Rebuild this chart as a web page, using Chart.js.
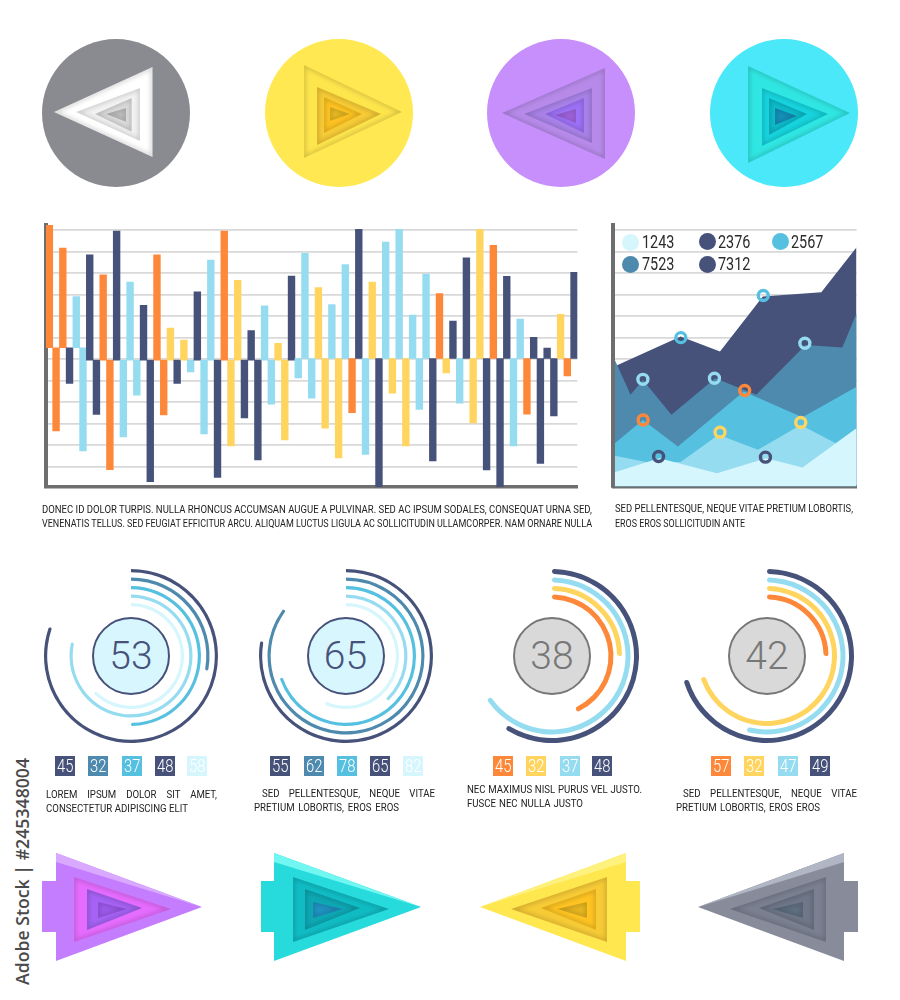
<!DOCTYPE html>
<html><head><meta charset="utf-8">
<script src="https://cdn.jsdelivr.net/npm/chart.js@4"></script>
<style>
html,body{margin:0;padding:0;background:#fff;}
#page{position:relative;width:900px;height:1000px;overflow:hidden;background:#fff;font-family:"Roboto",sans-serif;}
canvas{position:absolute;}
svg{position:absolute;left:0;top:0;}
.t{position:absolute;white-space:nowrap;line-height:1;}
.cap{font-size:11.2px;color:#222;height:12px;line-height:12px;transform-origin:0 50%;text-align:justify;text-align-last:justify;white-space:normal;}
.sq{position:absolute;width:20px;height:20px;line-height:20px;text-align:center;color:#fff;font-size:18.5px;font-weight:300;}
.sq span{display:inline-block;transform:scaleX(.8);}
.hub{position:absolute;width:74px;height:74px;border-radius:50%;text-align:center;line-height:74px;font-weight:300;font-size:39px;}
.dot{position:absolute;width:17px;height:17px;border-radius:50%;}
</style></head><body><div id="page">
<svg id="deco" width="900" height="1000"></svg>
<canvas id="bars" width="545" height="280" style="left:40px;top:215px"></canvas>
<canvas id="area" width="260" height="280" style="left:605px;top:215px"></canvas>
<canvas id="g1" width="176" height="176" style="left:43px;top:568px"></canvas>
<canvas id="g2" width="176" height="176" style="left:258px;top:568px"></canvas>
<canvas id="g3" width="176" height="176" style="left:464px;top:568px"></canvas>
<canvas id="g4" width="176" height="176" style="left:679px;top:568px"></canvas>
</div>
<script>
// ---------- data ----------
const barUpperEnds=[62.3,51.6,29,48.5,39.1,59.5,35.8,25,48.5,14.4,8.8,31.3,46,59.5,36.6,13.2,24.8,7.3,38.6,49.1,33.2,25.3,43.9,60.3,35.8,54.4,60.3,20.5,39.5,30.4,17.7,47,60.3,52.9,38.4,18.6,10.1,5.1,20.8,40.3];
const barLowerEnds=[-33.3,-11.3,-42.6,-25.7,-51.3,-36.1,-16.7,-56.9,-25.9,-11.3,-5.9,-34.7,-55,-40.3,-27.3,-46.8,-20.9,-37.5,-8.7,-18.1,-32.1,-45.9,-24.9,-44.3,-59.4,-15.8,-40.3,-23.4,-47.3,-6.4,-20.5,-29.6,-51.5,-59.4,-40.3,-25.6,-48.5,-26.4,-7.8];
const barUpperKinds=["O","O","L","N","O","N","L","N","O","Y","Y","N","L","O","Y","N","L","Y","N","L","Y","L","L","N","Y","L","L","L","L","O","N","N","Y","O","N","L","N","N","Y","N"];
const barLowerKinds=["O","N","L","N","O","L","L","N","O","N","L","L","N","Y","N","N","L","Y","L","L","Y","Y","O","L","N","Y","Y","L","N","Y","L","Y","N","N","L","O","N","N","O"];
const barBases=[5.3,5.3,5.3,5.3,5.3,5.3,-0.5,-0.5,-0.5,-0.5,-0.5,-0.5,-0.5,-0.5,-0.5,-0.5,-0.5,-0.5,-0.5,-0.5,-0.5,-0.5,-0.5,-0.5,-0.5,-0.5,-0.5,-0.5,-0.5,-0.5,-0.5,-0.5,-0.5,-0.5,-0.5,-0.5,-0.5,0.3,0.3,0.3,0.3,0.3,0.3,0.3,0.3,0.3,0.3,0.3,0.3,0.3,0.3,0.3,0.3,0.3,0.3,0.3,0.3,0.3,0.3,0.3,0.3,0.3,0.3,0.3,0.3,0.3,0.3,0.3,0.3,0.3,0.3,0.3,0.3,0.3,0.3,0.3,0.3,0.3,0.3];

const areaNavyX=[0.7,27.2,43.5,61.2,85.4,100];
const areaNavyY=[-3.1,10.4,3.4,29,31,51.9];
const areaSteelX=[0,6.5,11.6,23.4,41.5,58.5,78.9,94.1,100];
const areaSteelY=[-0.5,-16.7,-9.8,-26,-9,-16.7,6.5,5.3,21.2];
const areaBlueX=[0,11.6,26.1,53.3,77.6,100];
const areaBlueY=[-39.2,-28.4,-40.8,-15.2,-27.1,-12.9];
const areaLightX=[0,12.9,27.2,42.9,59.2,76.9,91.4,100];
const areaLightY=[-45,-48,-48,-35.3,-42.3,-30.7,-39.2,-32.2];
const areaPaleX=[0,18.4,42.2,62.6,77.6,100];
const areaPaleY=[-52.7,-46.2,-53.2,-46.2,-50.5,-32.2];
const ringLightX=[11.6,41.2,78.6], ringLightY=[-9.5,-9,7.3];
const ringBlueX=[27.3,61.4], ringBlueY=[9.9,29.5];
const ringOrangeX=[11.7,53.7], ringOrangeY=[-28.4,-14.7];
const ringYellowX=[43.5,76.9], ringYellowY=[-34.1,-29.6];
const ringNavyX=[18.1,62.3], ringNavyY=[-45.4,-45.7];
const areaLegendLabels=["1243","2376","2567","7523","7312"];

const gauge1Sweep=[80.4,28,50,78.6,62.5];
const gauge2Sweep=[77.7,85.2,69.8,38,56.6];
const gauge3Sweep=[59,65.6,25,43.3];
const gauge4Sweep=[70.4,54.2,69.9,25];
const gaugeNumbers=["53","65","38","42"];
const gauge1Squares=["45","32","37","48","58"];
const gauge2Squares=["55","62","78","65","82"];
const gauge3Squares=["45","32","37","48"];
const gauge4Squares=["57","32","47","49"];

// ---------- colours ----------
const C={O:"#FE8839",Y:"#FFD45F",L:"#95DCF0",N:"#46527A",S:"#4E8AAE",B:"#55C0E0",P:"#D6F6FD"};
const AXIS="#6E6E6E",GRID="#D9D9D9";
Chart.defaults.animation=false;
Chart.defaults.responsive=false;
Chart.defaults.plugins.legend.display=false;
Chart.defaults.plugins.tooltip.enabled=false;

// ---------- bar chart ----------
const barKinds=[],barRanges=[];
barUpperEnds.forEach((v,i)=>{
  barKinds.push(barUpperKinds[i]);barRanges.push(v);
  if(i<barLowerEnds.length){barKinds.push(barLowerKinds[i]);barRanges.push(barLowerEnds[i]);}
});
const gridScaleY=(min,max)=>({type:"linear",min,max,ticks:{display:false,stepSize:10,includeBounds:false},
  grid:{color:GRID,lineWidth:1.8,drawTicks:false},border:{display:true,color:AXIS,width:4}});
const bottomBorder={display:true,color:AXIS,width:3.6};
new Chart("bars",{type:"bar",
  data:{labels:barRanges.map((_,i)=>i+1),datasets:[{
    data:barRanges.map((v,i)=>[barBases[i],v]),
    backgroundColor:barKinds.map(k=>C[k]),borderWidth:0,barPercentage:1,categoryPercentage:1}]},
  options:{layout:{padding:{left:6,right:7.6,top:10,bottom:8}},
    scales:{x:{ticks:{display:false},grid:{display:false,drawTicks:false},border:bottomBorder},
            y:gridScaleY(-59.4,62.3)}}});

// ---------- area chart ----------
const xy=(xs,ys)=>xs.map((x,i)=>({x,y:ys[i]}));
const ring=(xs,ys,c)=>({type:"line",data:xy(xs,ys),showLine:false,pointRadius:5,pointStyle:"circle",
  pointBorderWidth:3.4,pointBorderColor:c,pointBackgroundColor:"rgba(0,0,0,0)"});
const layer=(xs,ys,c)=>({type:"line",data:xy(xs,ys),fill:"start",backgroundColor:c,borderWidth:0,pointRadius:0,tension:0});
new Chart("area",{type:"line",
  data:{datasets:[
    ring(ringLightX,ringLightY,C.L),ring(ringBlueX,ringBlueY,C.B),ring(ringOrangeX,ringOrangeY,C.O),
    ring(ringYellowX,ringYellowY,C.Y),ring(ringNavyX,ringNavyY,C.N),
    layer(areaPaleX,areaPaleY,C.P),layer(areaLightX,areaLightY,C.L),layer(areaBlueX,areaBlueY,C.B),
    layer(areaSteelX,areaSteelY,C.S),layer(areaNavyX,areaNavyY,C.N)]},
  options:{layout:{padding:{left:6.5,right:6.7,top:10,bottom:8}},
    scales:{x:{type:"linear",min:-0.6,max:100,ticks:{display:false},grid:{display:false,drawTicks:false},border:bottomBorder},
            y:gridScaleY(-59.4,62.3)}}});

// ---------- gauges ----------
function gauge(id,sweep,colors,thick,gap,flatStart){
  const datasets=[];
  const r=thick/2;
  sweep.forEach((v,i)=>{
    if(i) datasets.push({data:[],weight:gap});
    datasets.push({data:[v,100-v],weight:thick,backgroundColor:[colors[i],"rgba(0,0,0,0)"],borderWidth:0,
      borderRadius:flatStart?{outerStart:0,innerStart:0,outerEnd:r,innerEnd:r}:r});
  });
  const total=sweep.length*thick+(sweep.length-1)*gap;
  new Chart(id,{type:"doughnut",data:{labels:sweep.map((_,i)=>i+1),datasets},
    options:{cutout:(87-total)/87*100+"%",radius:87,layout:{padding:1}}});
}
gauge("g1",gauge1Sweep,[C.N,C.S,C.B,C.L,C.P],3.2,5.3,true);
gauge("g2",gauge2Sweep,[C.N,C.S,C.B,C.L,C.P],3.2,5.3,true);
gauge("g3",gauge3Sweep,[C.N,C.L,C.Y,C.O],5,3.5,false);
gauge("g4",gauge4Sweep,[C.N,C.L,C.Y,C.O],5,3.5,false);

// ---------- text & furniture ----------
const page=document.getElementById("page");
function el(cls,css,text){const d=document.createElement("div");d.className=cls;d.style.cssText=css;if(text!==undefined)d.textContent=text;page.appendChild(d);return d;}
const meter=document.createElement("span");
meter.style.cssText="position:absolute;visibility:hidden;white-space:nowrap;font-size:11.2px;";
page.appendChild(meter);
// a condensed caption line that spans exactly w pixels from x
function cap(x,y,w,text){
  meter.textContent=text;
  const s=Math.min(.86,w/meter.getBoundingClientRect().width);
  el("t cap",`left:${x}px;top:${y-6}px;width:${w/s}px;transform:scaleX(${s});`,text);
}
function hub(cx,text,fill,stroke,color){el("hub",`left:${cx-39}px;top:617px;background:${fill};border:2px solid ${stroke};color:${color}`,text);}
hub(131,gaugeNumbers[0],"#D8F6FE","#46527A","#46527A");
hub(345.5,gaugeNumbers[1],"#D8F6FE","#46527A","#46527A");
hub(552,gaugeNumbers[2],"#D9D9D9","#777","#777");
hub(767,gaugeNumbers[3],"#D9D9D9","#777","#777");
function squares(xs,labels,kinds){labels.forEach((l,i)=>{
  const d=el("sq",`left:${xs[i]-10}px;top:756px;background:${C[kinds[i]]}`);
  const s=document.createElement("span");s.textContent=l;d.appendChild(s);});}
squares([65,98.3,131.7,165,197.3],gauge1Squares,["N","S","B","N","P"]);
squares([280,313.7,347,380,413.3],gauge2Squares,["N","S","B","N","P"]);
squares([502.7,536,570,602.3],gauge3Squares,["O","Y","L","N"]);
squares([721,754,787.7,820.3],gauge4Squares,["O","Y","L","N"]);
// legend of the area chart
[[630.7,242.3,641.7,"P"],[707.3,241.7,718.3,"N"],[780.7,241.7,791,"B"],[630.7,264.3,641.7,"S"],[707.3,264.3,718.3,"N"]].forEach((p,i)=>{
  el("dot",`left:${p[0]-8.5}px;top:${p[1]-8.5}px;background:${C[p[3]]}`);
  el("t",`left:${p[2]}px;top:${p[1]-9}px;font-size:18px;color:#2b2b2b;transform-origin:0 50%;transform:scaleX(.8)`,areaLegendLabels[i]);
});
// captions
cap(42,510,550,"DONEC ID DOLOR TURPIS. NULLA RHONCUS ACCUMSAN AUGUE A PULVINAR. SED AC IPSUM SODALES, CONSEQUAT URNA SED,");
cap(42,524,550,"VENENATIS TELLUS. SED FEUGIAT EFFICITUR ARCU. ALIQUAM LUCTUS LIGULA AC SOLLICITUDIN ULLAMCORPER. NAM ORNARE NULLA");
cap(615,509,238,"SED PELLENTESQUE, NEQUE VITAE PRETIUM LOBORTIS,");
cap(615,524,130,"EROS EROS SOLLICITUDIN ANTE");
cap(46,795,171,"LOREM IPSUM DOLOR SIT AMET,");
cap(46,809,142,"CONSECTETUR ADIPISCING ELIT");
cap(262,794,173,"SED PELLENTESQUE, NEQUE VITAE");
cap(254,808,145,"PRETIUM LOBORTIS, EROS EROS");
cap(467,790,175,"NEC MAXIMUS NISL PURUS VEL JUSTO.");
cap(467,804,116,"FUSCE NEC NULLA JUSTO");
cap(683,794,174,"SED PELLENTESQUE, NEQUE VITAE");
cap(676,808,144,"PRETIUM LOBORTIS, EROS EROS");
// stock id running up the left edge
el("t",`left:22px;top:976px;transform-origin:0 50%;transform:rotate(-90deg);font:600 17.7px "Open Sans","Noto Sans",sans-serif;color:#4a4a4a;height:18px;line-height:18px;`,"Adobe Stock | #245348004");

// ---------- decorative paper-cut icons ----------
const svg=document.getElementById("deco");
let uid=0,markup='<defs><filter id="b" x="-30%" y="-30%" width="160%" height="160%"><feGaussianBlur stdDeviation="2"/></filter></defs>';
function tri(l){ // [tipX,baseX,topY,bottomY,tipY,fill]
  const pts=`${l[0]},${l[4]} ${l[1]},${l[2]} ${l[1]},${l[3]}`;
  const id="c"+(uid++);
  return `<clipPath id="${id}"><polygon points="${pts}"/></clipPath><polygon points="${pts}" fill="${l[5]}"/>`+
   `<g clip-path="url(#${id})"><polygon points="${pts}" fill="none" stroke="#000" stroke-opacity=".16" stroke-width="4" filter="url(#b)"/></g>`;
}
function circleIcon(cx,fill,layers){markup+=`<circle cx="${cx}" cy="113" r="74" fill="${fill}"/>`;layers.forEach(l=>markup+=tri(l));}
circleIcon(116,"#8A8B90",[[54,152.5,67,157,112,"#FFFFFF"],[76,140,88,141,112,"#F2F2F2"],[95,131.7,98,131.7,114,"#DCDCDC"],[106,126,108,121.7,114,"#C2C2C2"]]);
circleIcon(339,"#FFE851",[[402,304,65,158,112,"#FDE54C"],[381,317,87,145,114,"#F6CB36"],[362,324,97,133,114,"#FFC422"],[350,330,107,121,114,"#EDBD22"]]);
circleIcon(561,"#C68FFB",[[502,605,68,159,113,"#B78AEA"],[524,592,88,143,114,"#A982E8"],[545,584,98,133,114,"#9E72F8"],[555,576,109,123,115,"#A265E2"]]);
circleIcon(784,"#4BE8FA",[[850,748,66,163,113,"#30E6E2"],[828,762,88,146,114,"#16D4DE"],[807,769,98,135,114,"#0DBCCC"],[797,775,108,125,116,"#1492BC"]]);
function arrowIcon(tip,base,tab,fill,hi,layers){
  markup+=`<polygon points="${tab},881 ${base},881 ${base},853 ${tip},907 ${base},961 ${base},932 ${tab},932" fill="${fill}"/>`;
  markup+=`<polygon points="${base},853 ${tip},907 ${base},862" fill="${hi}"/>`;
  layers.forEach(l=>markup+=tri(l));
}
arrowIcon(202,56,42,"#C47DFF","#D9A8FF",[[171,74,877,942,909,"#E56CFF"],[142,87,889,930,908,"#A662F4"],[127,98,902,918,909,"#9E5AEC"]]);
arrowIcon(421,274,261,"#27DADB","#72F6F2",[[389,293,877,942,909,"#10BCC4"],[360,305,889,930,908,"#0DA8B4"],[343,313,902,918,909,"#1F94C4"]]);
arrowIcon(480,626,640,"#FFE74F","#FFF17E",[[511,607,877,942,909,"#F7CB36"],[541,596,889,930,908,"#FFC422"],[557,587,902,918,909,"#E8B720"]]);
arrowIcon(698,844,858,"#888C9A","#B0B6C4",[[730,826,877,942,909,"#7A8090"],[759,814,889,930,908,"#6F7788"],[772,803,902,918,909,"#607082"]]);
svg.innerHTML=markup;
</script></body></html>
